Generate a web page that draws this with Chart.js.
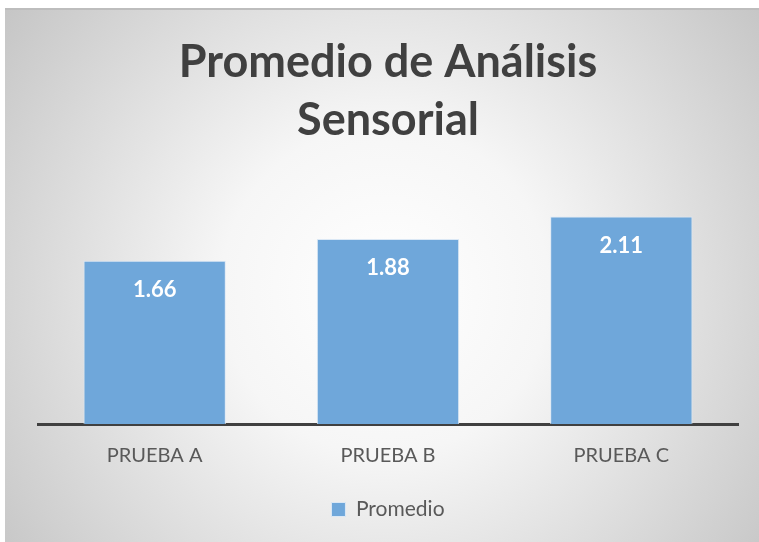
<!doctype html>
<html lang="es">
<head>
<meta charset="utf-8" />
<title>Promedio de Análisis Sensorial</title>
<script src="https://cdn.jsdelivr.net/npm/chart.js"></script>
<style>
  html,body{margin:0;padding:0;background:#fff}
  .wrap{width:759px;height:542px;position:relative}
</style>
</head>
<body>
<div class="wrap"><canvas id="chart"></canvas></div>
<script>
// data
const categories = ['PRUEBA A', 'PRUEBA B', 'PRUEBA C'];
const promedio = [1.66, 1.88, 2.11];
const seriesName = 'Promedio';
const titleLines = ['Promedio de Análisis', 'Sensorial'];

const FONT = 'Lato, "Open Sans", "DejaVu Sans", sans-serif';

// gray radial background like the office chart area
const bgPlugin = {
  id: 'bg',
  beforeDraw(chart){
    const c = chart.ctx, w = chart.width, h = chart.height;
    c.save();
    c.fillStyle = '#fff';
    c.fillRect(0,0,w,h);
    const g = c.createRadialGradient(385, 290, 0, 385, 290, 470);
    g.addColorStop(0, '#ffffff');
    g.addColorStop(0.35, '#f6f6f6');
    g.addColorStop(1, '#c6c6c6');
    c.fillStyle = g;
    c.fillRect(5, 8, w-5, h-8);
    c.strokeStyle = '#bdbdbd';
    c.lineWidth = 2;
    c.beginPath();
    c.moveTo(5, 9); c.lineTo(w, 9);
    c.stroke();
    c.restore();
  }
};

// value labels inside the top of each bar
const valueLabels = {
  id: 'valueLabels',
  afterDatasetsDraw(chart){
    const c = chart.ctx;
    const meta = chart.getDatasetMeta(0);
    c.save();
    c.fillStyle = '#fff';
    c.font = 'bold 22px ' + FONT;
    c.textAlign = 'center';
    c.textBaseline = 'middle';
    meta.data.forEach((bar, i) => {
      c.fillText(promedio[i].toFixed(2), bar.x, bar.y + 29);
    });
    c.restore();
  }
};

new Chart(document.getElementById('chart'), {
  type: 'bar',
  data: {
    labels: categories,
    datasets: [{
      label: seriesName,
      data: promedio,
      backgroundColor: '#6fa7da',
      borderColor: '#dbe8f5',
      borderWidth: 1,
      categoryPercentage: 0.61,
      barPercentage: 1
    }]
  },
  options: {
    responsive: true,
    maintainAspectRatio: false,
    animation: false,
    layout: { padding: { left: 38, right: 21, top: 33, bottom: 12 } },
    scales: {
      x: {
        grid: { display: false },
        border: { display: true, color: '#404040', width: 3 },
        ticks: { color: '#595959', font: { family: FONT, size: 20 }, padding: 12 }
      },
      y: { display: false, min: 0, max: 2.5 }
    },
    plugins: {
      title: {
        display: true,
        text: titleLines,
        color: '#404040',
        font: { family: FONT, size: 45, weight: 'bold', lineHeight: 1.29 },
        padding: { top: 0, bottom: 29 }
      },
      legend: {
        position: 'bottom',
        labels: {
          color: '#595959',
          font: { family: FONT, size: 21 },
          boxWidth: 14, boxHeight: 14,
          padding: 19
        }
      },
      tooltip: { enabled: false }
    }
  },
  plugins: [bgPlugin, valueLabels]
});
</script>
</body>
</html>
